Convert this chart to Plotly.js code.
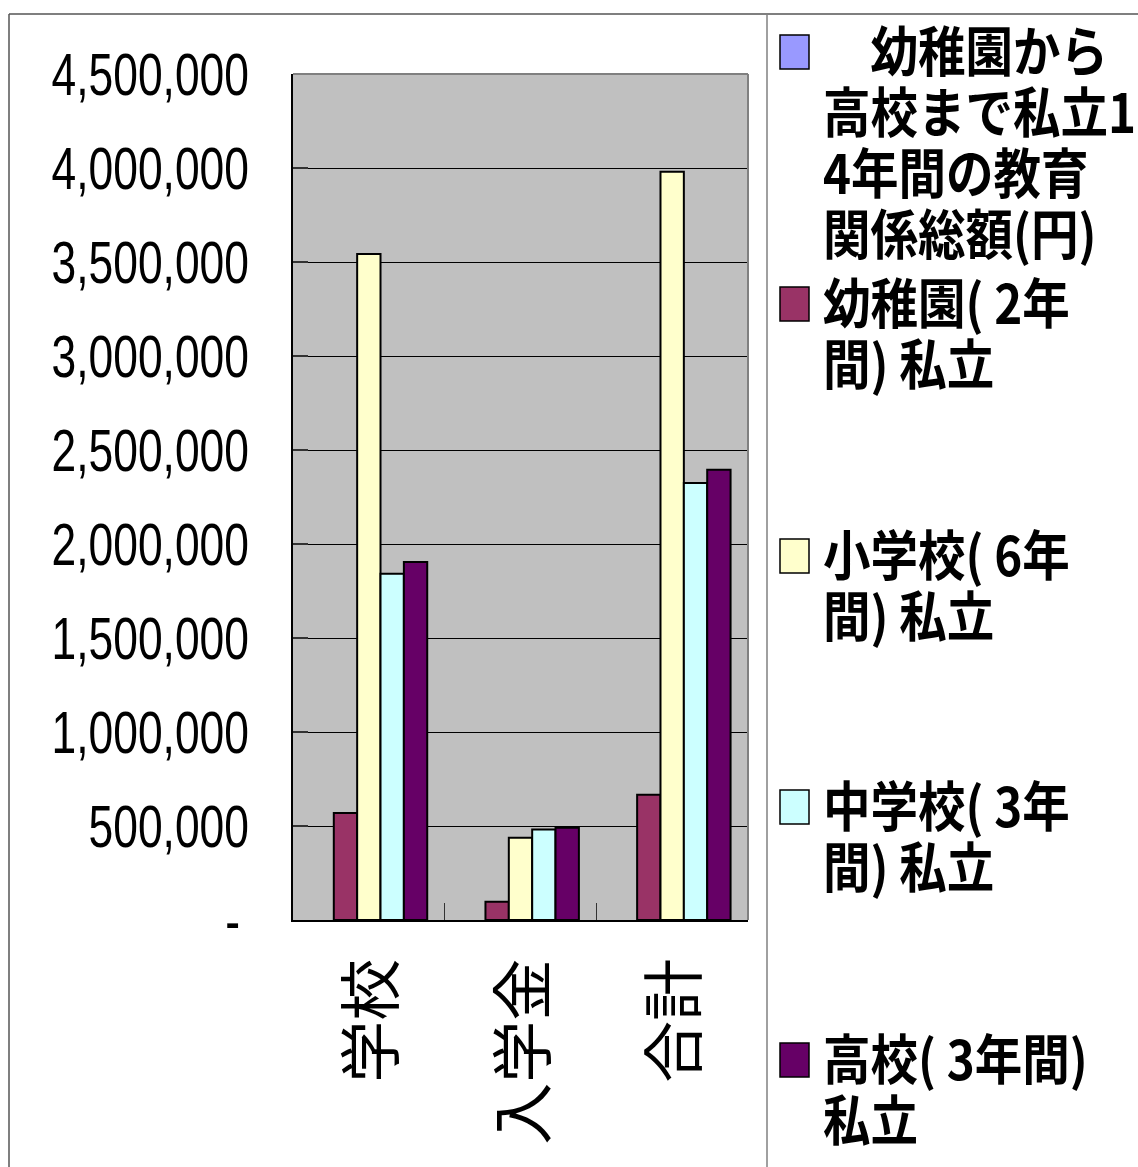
<!DOCTYPE html>
<html>
<head>
<meta charset="utf-8">
<script src="https://cdn.plot.ly/plotly-3.0.1.min.js"></script>
<style>html,body{margin:0;padding:0;background:#fff;}#chart{width:1138px;height:1167px;}</style>
</head>
<body>
<div id="chart"></div>
<script>
// ---- data ----
const categories = ['学校', '入学金', '合計'];
const seriesLabels = [
  '　幼稚園から<br>高校まで私立1<br>4年間の教育<br>関係総額(円)',
  '幼稚園( 2年<br>間) 私立',
  '小学校( 6年<br>間) 私立',
  '中学校( 3年<br>間) 私立',
  '高校( 3年間)<br>私立'
];
const totalFourteenYears = [null, null, null];
const kindergarten = [569000, 97000, 666000];
const elementary = [3542000, 438000, 3980000];
const juniorHigh = [1842000, 482000, 2324000];
const highSchool = [1904000, 491000, 2395000];
const yTickValues = [0, 500000, 1000000, 1500000, 2000000, 2500000, 3000000, 3500000, 4000000, 4500000];
const yTickLabels = ['-\u2009', '500,000', '1,000,000', '1,500,000', '2,000,000', '2,500,000', '3,000,000', '3,500,000', '4,000,000', '4,500,000'];

// ---- styles / layout constants ----
const seriesColors = ['#9999FF', '#993366', '#FFFFCC', '#CCFFFF', '#660066'];
const W = 1138, H = 1167;
const PL = 293, PR = 748, PT = 74, PB = 920;
const px = x => (x - PL) / (PR - PL);
const py = y => (PB - y) / (PB - PT);
const legendFirstLineY = [48, 300, 552, 803, 1056];
const legendLineGap = 61;
const legendFont = 54;
const legendScaleX = 0.88;
const yLabelScaleX = 0.74;

const seriesValues = [totalFourteenYears, kindergarten, elementary, juniorHigh, highSchool];
const traces = seriesValues.map((vals, i) => ({
  type: 'bar',
  x: categories,
  y: vals,
  name: seriesLabels[i].replace(/<br>/g, ''),
  marker: {color: seriesColors[i], line: {color: '#000', width: 2}},
  hoverinfo: 'none'
}));

const shapes = [];
const annotations = [];
// outer chart frame and legend frame
shapes.push({type: 'line', xref: 'paper', yref: 'paper', x0: px(9), x1: px(W + 5), y0: py(14), y1: py(14), line: {color: '#555', width: 1.5}});
shapes.push({type: 'line', xref: 'paper', yref: 'paper', x0: px(9), x1: px(9), y0: py(14), y1: py(H + 5), line: {color: '#555', width: 1.5}});
shapes.push({type: 'line', xref: 'paper', yref: 'paper', x0: px(767), x1: px(767), y0: py(14), y1: py(H + 5), line: {color: '#808080', width: 1.5}});
// plot area top/right border (gray)
shapes.push({type: 'line', xref: 'paper', yref: 'paper', x0: 0, x1: 1, y0: 1, y1: 1, line: {color: '#808080', width: 2}});
shapes.push({type: 'line', xref: 'paper', yref: 'paper', x0: 1, x1: 1, y0: 0, y1: 1, line: {color: '#808080', width: 2}});

// legend drawn from the series labels
seriesLabels.forEach((lab, i) => {
  const cy = legendFirstLineY[i] + 4;
  shapes.push({type: 'rect', xref: 'paper', yref: 'paper',
    x0: px(780), x1: px(809), y0: py(cy - 17), y1: py(cy + 17),
    fillcolor: seriesColors[i], line: {color: '#000', width: 1.5}});
  lab.split('<br>').forEach((line, j) => {
    annotations.push({xref: 'paper', yref: 'paper', x: px(821), y: py(legendFirstLineY[i] + j * legendLineGap),
      xanchor: 'left', yanchor: 'middle', align: 'left', showarrow: false,
      text: '<b>' + line + '</b>',
      font: {family: '"Noto Sans CJK JP", sans-serif', size: legendFont, color: '#000'}});
  });
});

const layout = {
  width: W, height: H,
  margin: {l: PL, r: W - PR, t: PT, b: H - PB, pad: 0},
  paper_bgcolor: '#fff',
  plot_bgcolor: '#C0C0C0',
  showlegend: false,
  barmode: 'group',
  bargap: 0.23,
  bargroupgap: 0,
  xaxis: {
    type: 'category',
    tickangle: -90,
    tickson: 'boundaries',
    ticks: 'inside', ticklen: 17, tickwidth: 1.5, tickcolor: '#333',
    showline: true, linecolor: '#000', linewidth: 2,
    showgrid: false,
    ticklabelstandoff: 12,
    ticklabelshift: 5,
    tickfont: {family: '"Noto Sans CJK JP", sans-serif', size: 62, color: '#000'}
  },
  yaxis: {
    range: [0, 4500000],
    tickvals: yTickValues,
    ticktext: yTickLabels,
    ticks: 'inside', ticklen: 15, tickwidth: 1.5, tickcolor: '#333',
    showline: true, linecolor: '#000', linewidth: 2,
    showgrid: true, gridcolor: '#000', gridwidth: 1,
    zeroline: false,
    ticklabelstandoff: 30,
    tickfont: {family: '"Liberation Sans", Arial, sans-serif', size: 60, color: '#000'}
  },
  shapes: shapes,
  annotations: annotations
};

function squeeze(el, s, anchorRight) {
  const b = el.getBBox();
  const ax = anchorRight ? b.x + b.width : b.x;
  const old = el.getAttribute('transform') || '';
  el.setAttribute('transform', old + ' translate(' + ax + ',0) scale(' + s + ',1) translate(' + (-ax) + ',0)');
}

Plotly.newPlot('chart', traces, layout, {staticPlot: true}).then(gd => {
  gd.querySelectorAll('.ytick text').forEach(t => squeeze(t, yLabelScaleX, true));
  gd.querySelectorAll('.annotation-text').forEach(t => squeeze(t, legendScaleX, false));
});
</script>
</body>
</html>
